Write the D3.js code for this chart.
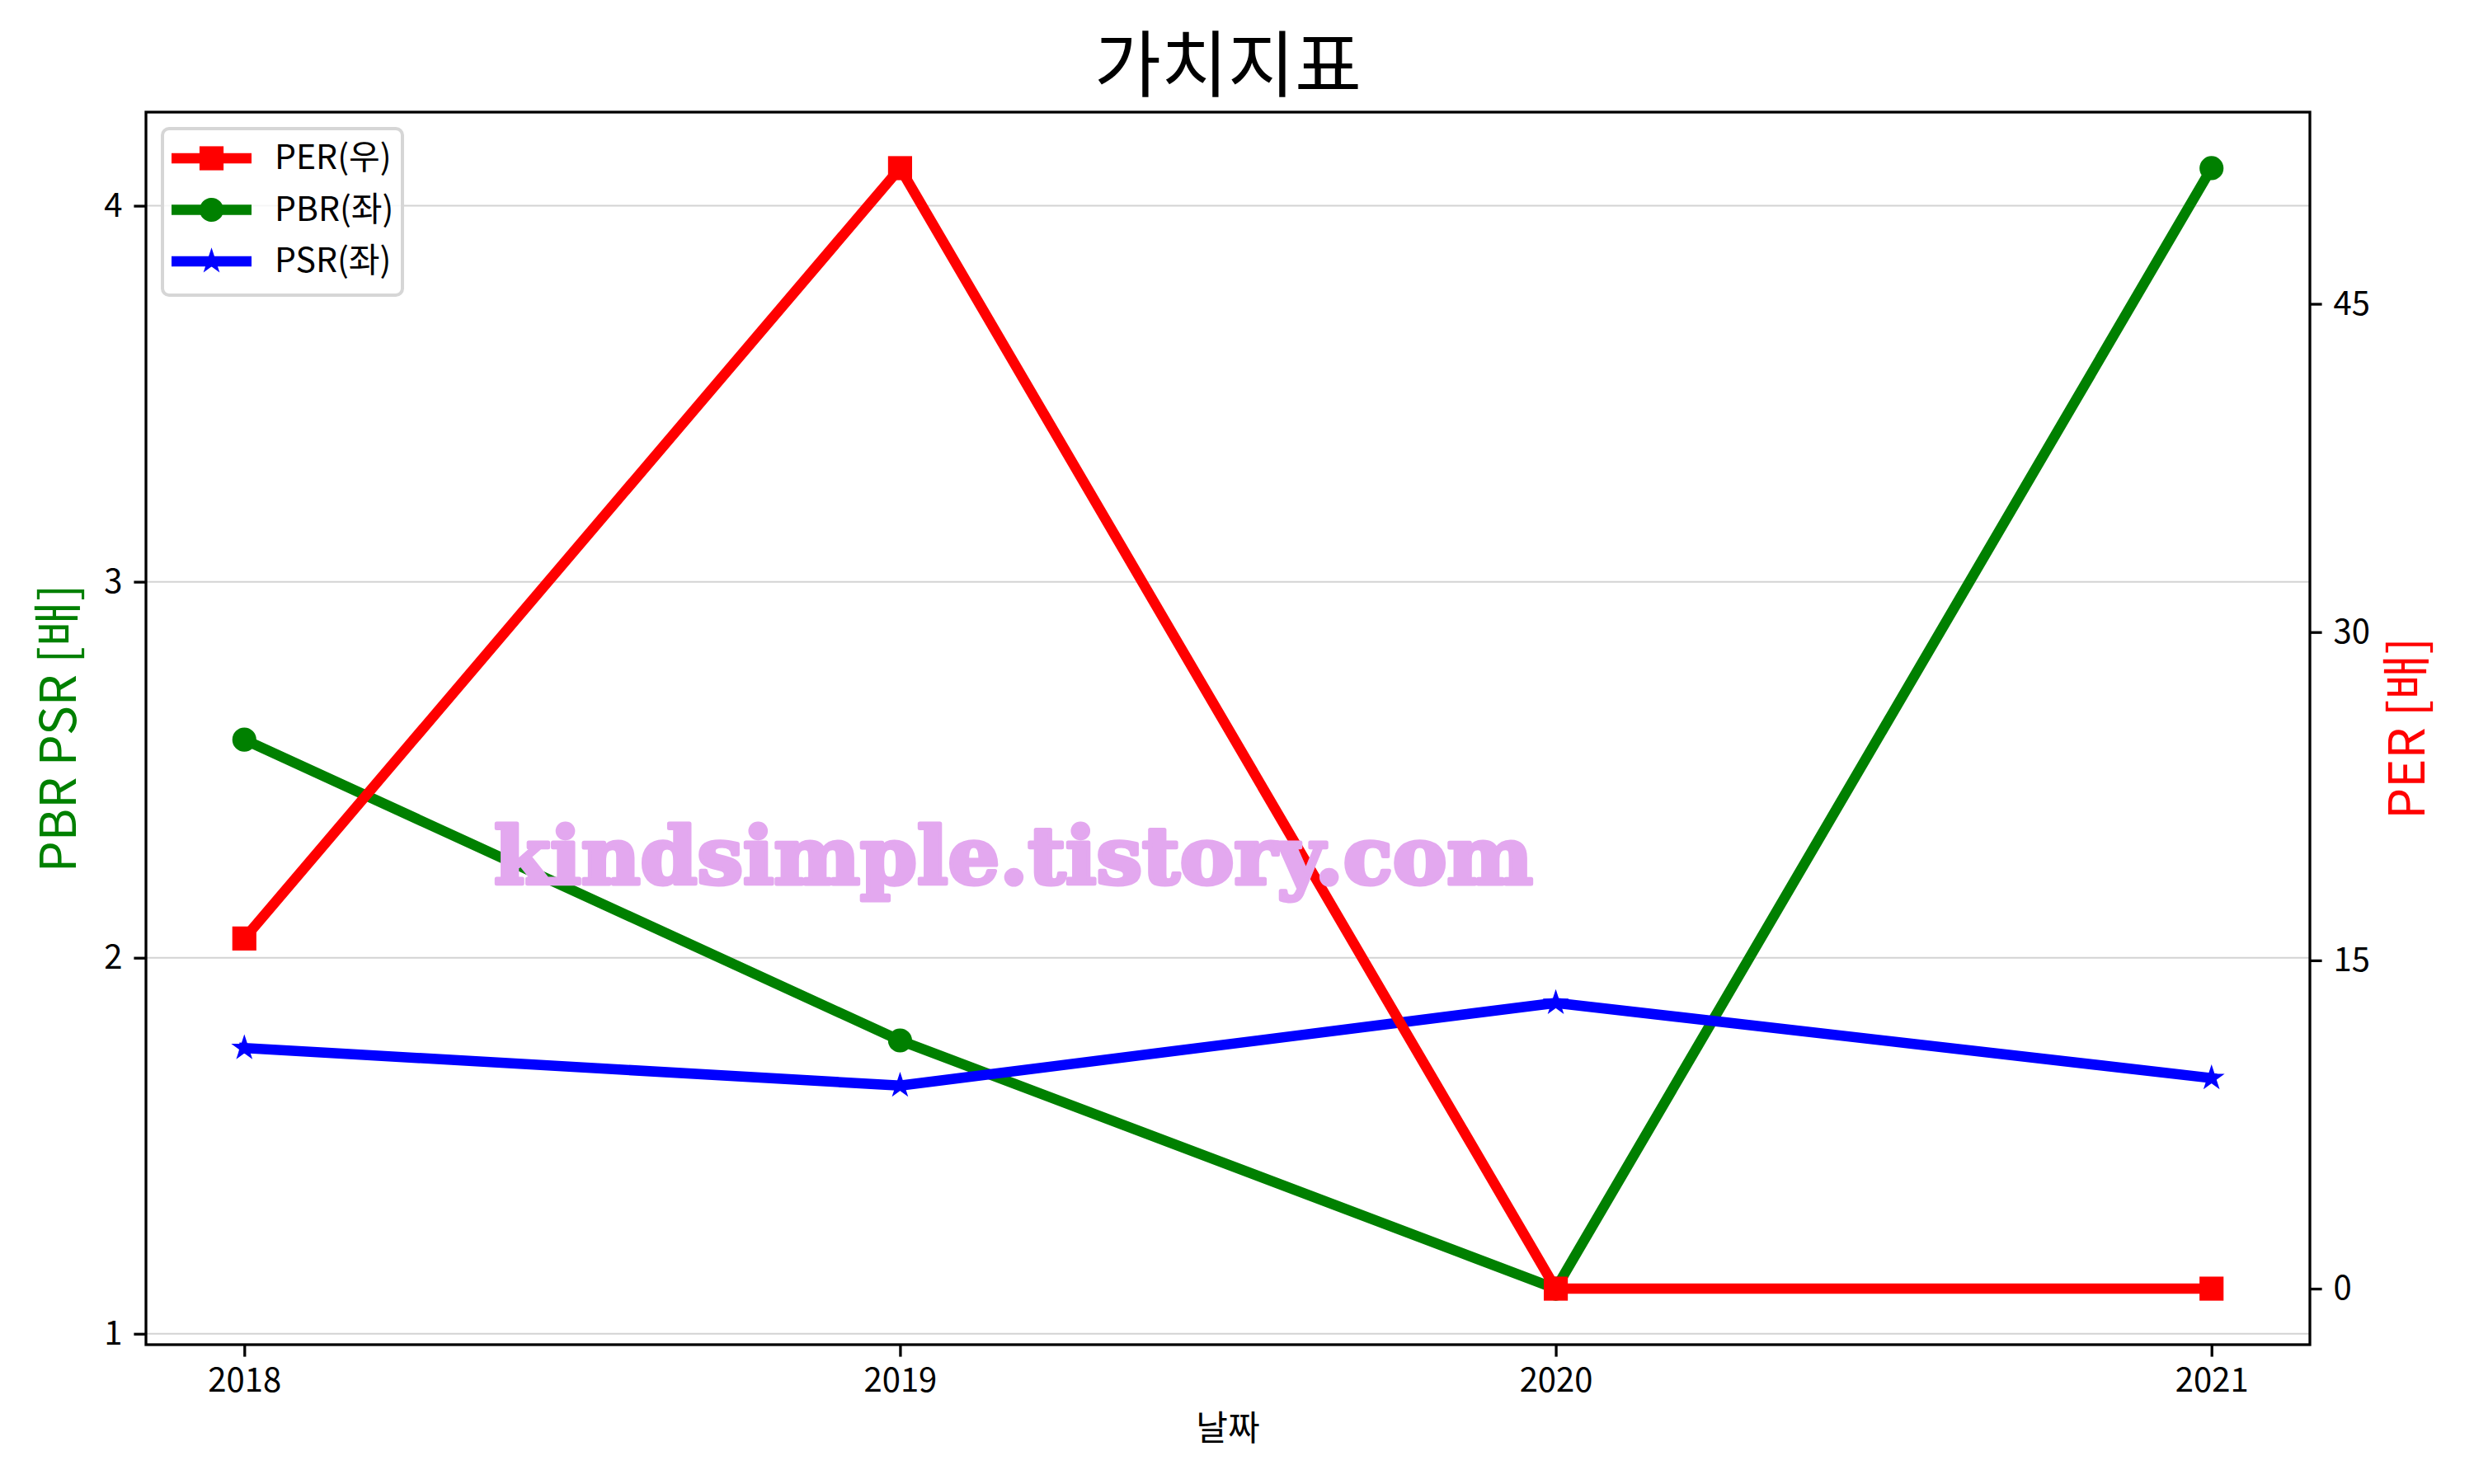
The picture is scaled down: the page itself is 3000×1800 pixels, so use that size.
<!DOCTYPE html>
<html>
<head>
<meta charset="utf-8">
<script src="https://cdn.jsdelivr.net/npm/d3@7"></script>
<style>
  body { margin: 0; background: #fff; }
  svg { display: block; }
  text { font-family: "Noto Sans CJK KR", "Noto Sans", sans-serif; }
</style>
</head>
<body>
<div id="chart"></div>
<script>
// values
const years = [2018, 2019, 2020, 2021];
const perVals = [16.0, 51.2, 0, 0];        // right axis
const pbrVals = [2.58, 1.78, 1.12, 4.10];  // left axis
const psrVals = [1.76, 1.66, 1.88, 1.68];  // left axis
const leftTicks = [1, 2, 3, 4];
const rightTicks = [0, 15, 30, 45];

const W = 3000, H = 1800;
const plot = { left: 177, right: 2801, top: 136, bottom: 1631 };

const svg = d3.select('#chart').append('svg')
  .attr('width', W).attr('height', H);

// matplotlib-like 5% margins
const pad = (lo, hi) => { let d = (hi - lo) * 0.05; return [lo - d, hi + d]; };

const x = d3.scaleLinear()
  .domain(pad(d3.min(years), d3.max(years)))
  .range([plot.left, plot.right]);
const yL = d3.scaleLinear()
  .domain(pad(d3.min(pbrVals.concat(psrVals)), d3.max(pbrVals.concat(psrVals))))
  .range([plot.bottom, plot.top]);
const yR = d3.scaleLinear()
  .domain(pad(d3.min(perVals), d3.max(perVals)))
  .range([plot.bottom, plot.top]);

//grid (left axis only)
svg.append('g').selectAll('line')
  .data(leftTicks).join('line')
  .attr('x1', plot.left).attr('x2', plot.right)
  .attr('y1', d => yL(d)).attr('y2', d => yL(d))
  .attr('stroke', '#d3d3d3').attr('stroke-width', 2);

const tickFont = 40;
const styleAxis = g => {
  g.select('.domain').remove();
  g.selectAll('.tick line').attr('stroke', '#000').attr('stroke-width', 3.3);
  g.selectAll('.tick text').attr('font-size', tickFont).attr('fill', '#000')
    .style('font-family', '"Noto Sans CJK KR", sans-serif');
};

svg.append('g')
  .attr('transform', `translate(0,${plot.bottom})`)
  .call(d3.axisBottom(x).tickValues(years).tickFormat(d3.format('d')).tickSize(14.6).tickPadding(14))
  .call(styleAxis);

svg.append('g')
  .attr('transform', `translate(${plot.left},0)`)
  .call(d3.axisLeft(yL).tickValues(leftTicks).tickFormat(d3.format('d')).tickSize(14.6).tickPadding(14))
  .call(styleAxis);

svg.append('g')
  .attr('transform', `translate(${plot.right},0)`)
  .call(d3.axisRight(yR).tickValues(rightTicks).tickFormat(d3.format('d')).tickSize(14.6).tickPadding(14))
  .call(styleAxis);

// series
const starPath = (r) => {
  let pts = [];
  for (let i = 0; i < 10; i++) {
    let rr = i % 2 ? r * 0.381966 : r;
    let a = -Math.PI / 2 + i * Math.PI / 5;
    pts.push([rr * Math.cos(a), rr * Math.sin(a)]);
  }
  return 'M' + pts.map(p => p.join(',')).join('L') + 'Z';
};

const series = [
  { name: 'PBR(좌)', vals: pbrVals, y: yL, color: 'green', marker: 'circle' },
  { name: 'PSR(좌)', vals: psrVals, y: yL, color: 'blue', marker: 'star' },
  { name: 'PER(우)', vals: perVals, y: yR, color: 'red', marker: 'square' },
];

const lw = 12.5, ms = 25, mew = 4.17;

const drawMarker = (g, type, color) => {
  if (type === 'circle') {
    g.append('circle').attr('r', ms / 2);
  } else if (type === 'square') {
    g.append('rect').attr('x', -ms / 2).attr('y', -ms / 2).attr('width', ms).attr('height', ms);
  } else {
    g.append('path').attr('d', starPath(ms / 2 - 2.5));
  }
  g.selectAll('*').attr('fill', color).attr('stroke', color)
    .attr('stroke-width', mew).attr('stroke-linejoin', 'miter');
};

const line = d3.line();
series.forEach(s => {
  let pts = years.map((yr, i) => [x(yr), s.y(s.vals[i])]);
  let g = svg.append('g');
  g.append('path').attr('d', line(pts))
    .attr('fill', 'none').attr('stroke', s.color).attr('stroke-width', lw)
    .attr('stroke-linejoin', 'round').attr('stroke-linecap', 'square');
  pts.forEach(p => {
    let m = g.append('g').attr('transform', `translate(${p[0]},${p[1]})`);
    drawMarker(m, s.marker, s.color);
  });
});

// spines
svg.append('rect')
  .attr('x', plot.left).attr('y', plot.top)
  .attr('width', plot.right - plot.left).attr('height', plot.bottom - plot.top)
  .attr('fill', 'none').attr('stroke', '#000').attr('stroke-width', 3.3);

// watermark
svg.append('text')
  .attr('x', 1229).attr('y', 1072)
  .attr('text-anchor', 'middle')
  .attr('textLength', 1260).attr('lengthAdjust', 'spacingAndGlyphs')
  .attr('font-size', 96).attr('font-weight', 'bold')
  .style('font-family', '"DejaVu Serif", serif')
  .attr('fill', '#e3a8ef').attr('stroke', '#e3a8ef').attr('stroke-width', 5)
  .attr('stroke-linejoin', 'round')
  .text('kindsimple.tistory.com');

// legend (PER first like the original)
const legendOrder = [series[2], series[0], series[1]];
const leg = svg.append('g');
leg.append('rect')
  .attr('x', 197).attr('y', 156).attr('width', 291).attr('height', 202)
  .attr('rx', 8).attr('fill', '#fff').attr('fill-opacity', 0.8)
  .attr('stroke', '#d6d6d6').attr('stroke-width', 4);
legendOrder.forEach((s, i) => {
  let cy = 192 + i * 62.5;
  leg.append('line').attr('x1', 208).attr('x2', 305).attr('y1', cy).attr('y2', cy)
    .attr('stroke', s.color).attr('stroke-width', lw);
  let m = leg.append('g').attr('transform', `translate(256.5,${cy})`);
  drawMarker(m, s.marker, s.color);
  leg.append('text').attr('x', 333).attr('y', cy + 13)
    .attr('font-size', 41).attr('fill', '#000').text(s.name);
});

// titles
svg.append('text').attr('x', (plot.left + plot.right) / 2).attr('y', 110)
  .attr('text-anchor', 'middle').attr('font-size', 88).attr('fill', '#000')
  .text('가치지표');

svg.append('text').attr('x', (plot.left + plot.right) / 2).attr('y', 1747)
  .attr('text-anchor', 'middle').attr('font-size', 42).attr('fill', '#000')
  .text('날짜');

svg.append('text')
  .attr('transform', `translate(92,${(plot.top + plot.bottom) / 2}) rotate(-90)`)
  .attr('text-anchor', 'middle').attr('font-size', 60).attr('fill', 'green')
  .text('PBR PSR [배]');

svg.append('text')
  .attr('transform', `translate(2940,${(plot.top + plot.bottom) / 2}) rotate(-90)`)
  .attr('text-anchor', 'middle').attr('font-size', 60).attr('fill', 'red')
  .text('PER [배]');
</script>
</body>
</html>
